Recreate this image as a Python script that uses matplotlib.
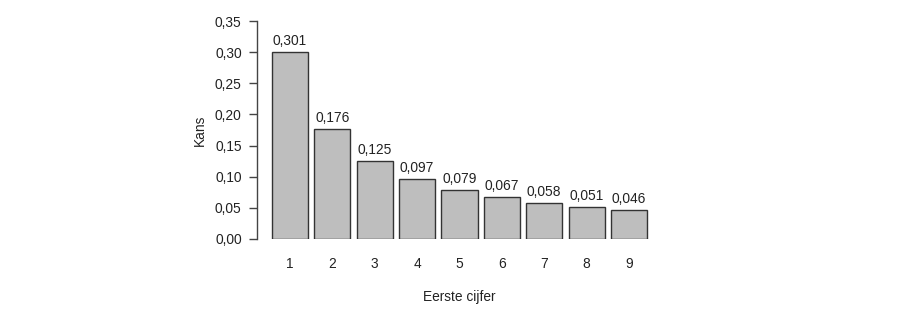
import matplotlib.pyplot as plt
import numpy as np

plt.rcParams['font.family'] = ['Liberation Sans', 'DejaVu Sans']

# Benford: kans op eerste cijfer
digits = ['1', '2', '3', '4', '5', '6', '7', '8', '9']
probs = [0.301, 0.176, 0.125, 0.097, 0.079, 0.067, 0.058, 0.051, 0.046]
yticks = [0.00, 0.05, 0.10, 0.15, 0.20, 0.25, 0.30, 0.35]

fig = plt.figure(figsize=(9, 3.18), dpi=100)
ax = fig.add_axes([257 / 900, 79 / 318, 405 / 900, 218 / 318])

x = np.arange(1, len(digits) + 1)
ax.bar(x, probs, width=0.85, color='#bebebe', edgecolor='#333333', linewidth=1)

for xi, p in zip(x, probs):
    ax.annotate(f'{p:.3f}'.replace('.', ','), (xi, p), xytext=(0, 5),
                textcoords='offset points', ha='center', va='baseline',
                fontsize=9.9, color='#222222')

ax.set_xlim(0.221, 9.779)
ax.set_ylim(0, 0.35)
ax.set_xticks(x)
ax.set_xticklabels(digits)
ax.set_yticks(yticks)
ax.set_yticklabels([f'{t:.2f}'.replace('.', ',') for t in yticks])

for s in ['top', 'right', 'bottom']:
    ax.spines[s].set_visible(False)
ax.spines['left'].set_color('#444444')
ax.spines['left'].set_linewidth(1)

ax.tick_params(axis='y', length=6, width=1, color='#444444', pad=5,
               labelsize=9.9, labelcolor='#222222')
ax.tick_params(axis='x', length=0, pad=13, labelsize=9.9, labelcolor='#222222')

ax.set_xlabel('Eerste cijfer', fontsize=9.9, color='#222222')
ax.xaxis.set_label_coords(0.5, -(297 - 239) / 218)
ax.xaxis.label.set_va('center')
ax.set_ylabel('Kans', fontsize=9.9, color='#222222')
ax.yaxis.set_label_coords((200 - 257) / 405, 0.5)
ax.yaxis.label.set_va('center')

plt.savefig('out.png', dpi=100)
